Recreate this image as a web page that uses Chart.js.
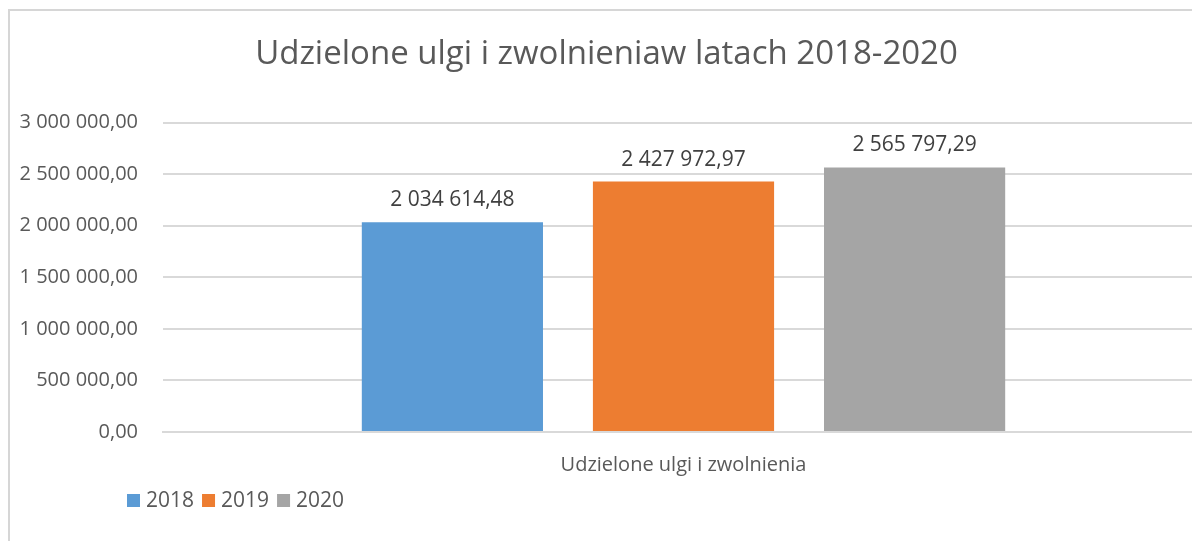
<!DOCTYPE html>
<html>
<head>
<meta charset="utf-8">
<script src="https://cdn.jsdelivr.net/npm/chart.js@4.4.0/dist/chart.umd.min.js"></script>
<style>
    html, body { margin: 0; padding: 0; background: #fff; overflow: hidden; }
    #frame {
        position: absolute; left: 8px; top: 9px;
        width: 1210px; height: 560px;
        border-left: 2px solid #d6d6d6; border-top: 2px solid #d6d6d6;
    }
    #wrap { position: absolute; left: -1px; top: -1px; width: 1200px; height: 531px; }
</style>
</head>
<body>
<div id="frame"><div id="wrap"><canvas id="ulgiChart"></canvas></div></div>
<script>
// dane z wykresu
var categories = ['Udzielone ulgi i zwolnienia'];
var years = ['2018', '2019', '2020'];
var values2018 = [2034614.48];
var values2019 = [2427972.97];
var values2020 = [2565797.29];
var yTicks = [0, 500000, 1000000, 1500000, 2000000, 2500000, 3000000];

var colors = ['#5B9BD5', '#ED7D31', '#A5A5A5'];
var textColor = '#595959';
var fontName = '"Open Sans", sans-serif';

// format polski: 2 034 614,48
function formatPL(v) {
    var parts = v.toFixed(2).split('.');
    parts[0] = parts[0].replace(/\B(?=(\d{3})+(?!\d))/g, ' ');
    return parts[0] + ',' + parts[1];
}

// etykiety wartości nad słupkami
var valueLabels = {
    id: 'valueLabels',
    afterDatasetsDraw: function (chart) {
        var ctx = chart.ctx;
        ctx.save();
        ctx.font = '21px ' + fontName;
        ctx.fillStyle = '#404040';
        ctx.textAlign = 'center';
        ctx.textBaseline = 'middle';
        chart.data.datasets.forEach(function (ds, i) {
            chart.getDatasetMeta(i).data.forEach(function (bar, j) {
                ctx.fillText(formatPL(ds.data[j]), bar.x, bar.y - 22);
            });
        });
        ctx.restore();
    }
};

// legenda na dole po lewej
var bottomLegend = {
    id: 'bottomLegend',
    afterDraw: function (chart) {
        var ctx = chart.ctx;
        var x = 118, y = 490;
        ctx.save();
        ctx.font = '21px ' + fontName;
        ctx.textBaseline = 'middle';
        chart.data.datasets.forEach(function (ds) {
            ctx.fillStyle = ds.backgroundColor;
            ctx.fillRect(x, y - 6, 13, 13);
            ctx.fillStyle = textColor;
            ctx.fillText(ds.label, x + 19, y + 1);
            x += 19 + ctx.measureText(ds.label).width + 8;
        });
        ctx.restore();
    }
};

var ctx = document.getElementById('ulgiChart').getContext('2d');
ctx.letterSpacing = '0px';
var ulgiChart = new Chart(ctx, {
    type: 'bar',
    data: {
        labels: categories,
        datasets: [
            { label: years[0], data: values2018, backgroundColor: colors[0] },
            { label: years[1], data: values2019, backgroundColor: colors[1] },
            { label: years[2], data: values2020, backgroundColor: colors[2] }
        ]
    },
    options: {
        responsive: true,
        maintainAspectRatio: false,
        animation: false,
        datasets: {
            bar: { categoryPercentage: 0.666, barPercentage: 0.784 }
        },
        layout: { padding: { top: 1, right: 5, bottom: 49, left: 0 } },
        scales: {
            x: {
                grid: { display: false },
                border: { color: '#d9d9d9', width: 2 },
                ticks: { color: textColor, font: { family: fontName, size: 20 }, padding: 13 },
                afterFit: function (scale) { scale.height = 60; }
            },
            y: {
                min: 0,
                max: 3000000,
                afterBuildTicks: function (scale) {
                    scale.ticks = yTicks.map(function (v) { return { value: v }; });
                },
                grid: { color: '#d9d9d9', lineWidth: 2, drawTicks: false },
                border: { display: false },
                ticks: {
                    color: textColor,
                    font: { family: fontName, size: 20 },
                    padding: 25,
                    callback: function (v) { return formatPL(v); }
                },
                afterFit: function (scale) { scale.width = 154; }
            }
        },
        plugins: {
            legend: { display: false },
            tooltip: { enabled: false },
            title: {
                display: true,
                text: 'Udzielone ulgi i zwolnieniaw latach 2018-2020',
                color: textColor,
                font: { family: fontName, size: 33, weight: 'normal' },
                padding: { top: 24, bottom: 48 }
            }
        }
    },
    plugins: [valueLabels, bottomLegend]
});
</script>
</body>
</html>
